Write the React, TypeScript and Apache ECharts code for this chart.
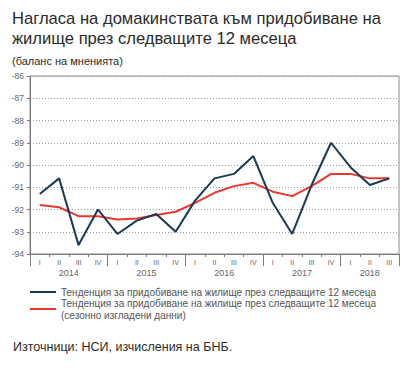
import React, { useEffect, useRef } from 'react';
import * as echarts from 'echarts';

const years = ['2014', '2015', '2016', '2017', '2018'];
const quarterNames = ['I', 'II', 'III', 'IV'];
const quartersInYear = [4, 4, 4, 4, 3];

const seriesActualName = 'Тенденция за придобиване на жилище през следващите 12 месеца';
const seriesSmoothName = 'Тенденция за придобиване на жилище през следващите 12 месеца\n(сезонно изгладени данни)';

const trendActual = [
  -91.3, -90.6, -93.6, -92.0,
  -93.1, -92.5, -92.2, -93.0,
  -91.6, -90.6, -90.4, -89.6,
  -91.7, -93.1, -90.9, -89.0,
  -90.1, -90.9, -90.6,
];
const trendSeasonal = [
  -91.8, -91.9, -92.3, -92.3,
  -92.45, -92.4, -92.25, -92.1,
  -91.7, -91.25, -90.95, -90.8,
  -91.2, -91.4, -90.95, -90.4,
  -90.4, -90.6, -90.6,
];

const yMin = -94;
const yMax = -86;
const yStep = 1;

const titleText = 'Нагласа на домакинствата към придобиване на\nжилище през следващите 12 месеца';
const subtitleText = '(баланс на мненията)';
const sourceText = 'Източници: НСИ, изчисления на БНБ.';

const FONT = '"Liberation Sans", Arial, sans-serif';

export default function App() {
  const ref = useRef<HTMLDivElement>(null);

  useEffect(() => {
    if (!ref.current) return;
    const chart = echarts.init(ref.current, null, { renderer: 'svg' });

    const categories: string[] = [];
    years.forEach((y, i) => {
      for (let q = 0; q < quartersInYear[i]; q++) categories.push(y + ' ' + quarterNames[q]);
    });
    const total = categories.length;
    const yearCenters: { pos: number; label: string }[] = [];
    let acc = 0;
    years.forEach((y, i) => {
      yearCenters.push({ pos: acc + quartersInYear[i] / 2, label: y });
      acc += quartersInYear[i];
    });

    const gridRect = { left: 30, right: 5, top: 76, bottom: 124 };
    const axisGray = '#7a7a7a';
    const labelGray = '#666';

    chart.setOption({
      animation: false,
      textStyle: { fontFamily: FONT },
      title: [
        {
          text: titleText,
          subtext: subtitleText,
          left: 12,
          top: 8,
          itemGap: 6,
          padding: 0,
          textStyle: { fontSize: 16.6, lineHeight: 20, fontWeight: 'normal', color: '#2a2a2a', fontFamily: FONT },
          subtextStyle: { fontSize: 11, lineHeight: 13, color: '#2a2a2a', fontFamily: FONT },
        },
        {
          text: sourceText,
          left: 13,
          top: 340,
          padding: 0,
          textStyle: { fontSize: 12.5, fontWeight: 'normal', color: '#2a2a2a', fontFamily: FONT },
        },
      ],
      legend: [
        {
          orient: 'vertical',
          left: 30,
          top: 286,
          padding: 0,
          itemWidth: 26,
          itemHeight: 2,
          icon: 'rect',
          data: [{ name: seriesActualName }],
          textStyle: { fontSize: 10, color: '#555', fontFamily: FONT, lineHeight: 12 },
        },
        {
          orient: 'vertical',
          left: 30,
          top: 291,
          padding: 0,
          itemWidth: 26,
          itemHeight: 2,
          icon: 'rect',
          data: [{ name: seriesSmoothName }],
          textStyle: { fontSize: 10, color: '#555', fontFamily: FONT, lineHeight: 12, padding: [12, 0, 0, 0] },
        },
      ],
      grid: [
        { ...gridRect, show: true, borderColor: '#8a8a8a', borderWidth: 1 },
        { ...gridRect },
        { ...gridRect },
      ],
      xAxis: [
        {
          type: 'category',
          gridIndex: 0,
          data: categories,
          boundaryGap: true,
          axisLine: { lineStyle: { color: axisGray } },
          axisTick: { show: true, interval: 0, length: 3, lineStyle: { color: axisGray } },
          axisLabel: {
            interval: 0,
            margin: 5,
            fontSize: 7,
            color: labelGray,
            formatter: (v: string) => v.split(' ')[1],
          },
          splitLine: { show: false },
        },
        {
          type: 'value',
          gridIndex: 1,
          min: 0,
          max: total,
          interval: 0.5,
          axisLine: { show: false },
          axisTick: { show: false },
          splitLine: { show: false },
          axisLabel: {
            margin: 14,
            fontSize: 9,
            color: labelGray,
            showMinLabel: false,
            showMaxLabel: false,
            formatter: (v: number) => {
              const f = yearCenters.find((c) => Math.abs(c.pos - v) < 1e-6);
              return f ? f.label : '';
            },
          },
        },
        {
          type: 'value',
          gridIndex: 2,
          min: 0,
          max: total,
          interval: 4,
          axisLine: { show: false },
          axisTick: { show: true, length: 12, lineStyle: { color: axisGray } },
          splitLine: { show: false },
          axisLabel: { show: false },
        },
      ],
      yAxis: [
        {
          type: 'value',
          gridIndex: 0,
          min: yMin,
          max: yMax,
          interval: yStep,
          axisLine: { show: true, lineStyle: { color: axisGray } },
          axisTick: { show: true, length: 3, lineStyle: { color: axisGray } },
          axisLabel: { margin: 6, fontSize: 8.5, color: labelGray },
          splitLine: { show: true, lineStyle: { type: [1, 2], color: '#9a9a9a', width: 1 } },
        },
        { type: 'value', gridIndex: 1, show: false, min: yMin, max: yMax },
        { type: 'value', gridIndex: 2, show: false, min: yMin, max: yMax },
      ],
      series: [
        {
          name: seriesActualName,
          type: 'line',
          xAxisIndex: 0,
          yAxisIndex: 0,
          data: trendActual,
          showSymbol: false,
          symbol: 'none',
          lineStyle: { color: '#1c3857', width: 2 },
          itemStyle: { color: '#1c3857' },
          z: 3,
        },
        {
          name: seriesSmoothName,
          type: 'line',
          xAxisIndex: 0,
          yAxisIndex: 0,
          data: trendSeasonal,
          showSymbol: false,
          symbol: 'none',
          lineStyle: { color: '#e8392b', width: 2 },
          itemStyle: { color: '#e8392b' },
          z: 2,
        },
      ],
    });

    return () => chart.dispose();
  }, []);

  return <div ref={ref} style={{ width: 404, height: 378, position: 'absolute', left: 0, top: 0, background: '#fff' }} />;
}
